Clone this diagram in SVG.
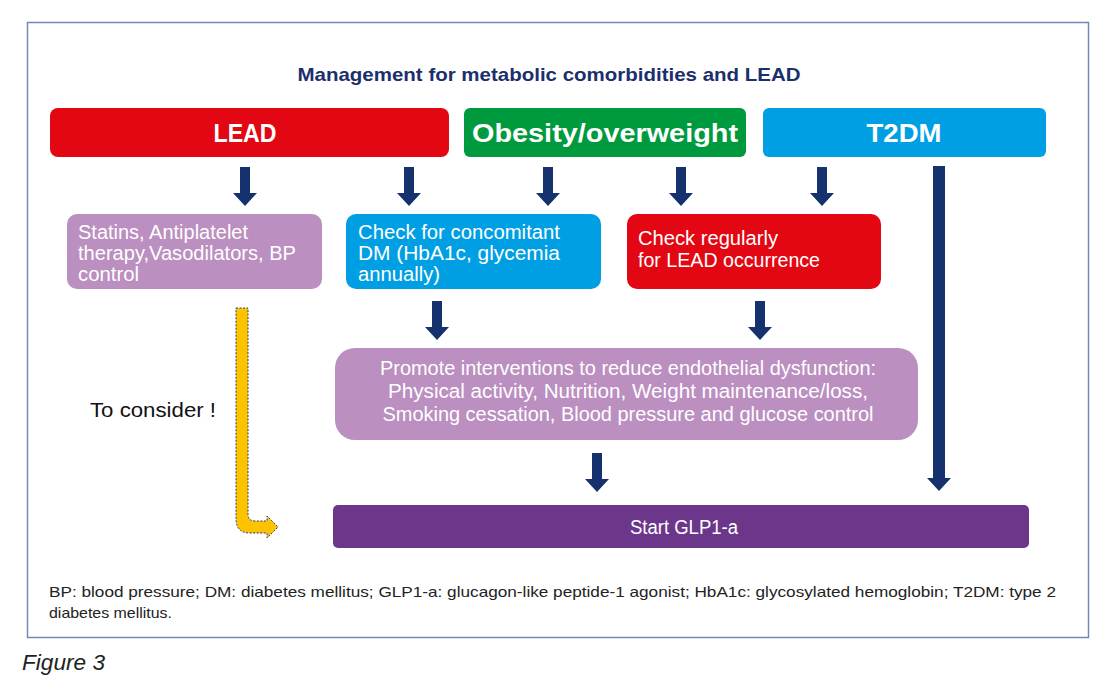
<svg xmlns="http://www.w3.org/2000/svg" width="1116" height="689" viewBox="0 0 1116 689">
<defs>
<style>
.t{font-family:"Liberation Sans",Arial,sans-serif;fill:#fff}
.hd{font-size:25px;font-weight:bold;text-anchor:middle}
.bx{font-size:20px}
.arr{fill:#15326f}
</style>
<path id="da" d="M-5,0 H5 V26 H12 L0,39 L-12,26 H-5 Z"/>
</defs>
<rect width="1116" height="689" fill="#fff"/>
<rect x="27.5" y="22.5" width="1061" height="615" fill="none" stroke="#7189b8" stroke-width="1.5"/>
<text x="549" y="81" font-family="Liberation Sans, Arial, sans-serif" font-size="19" font-weight="bold" fill="#1b2f6b" text-anchor="middle" textLength="503" lengthAdjust="spacingAndGlyphs">Management for metabolic comorbidities and LEAD</text>

<g id="lead"><rect x="50" y="108" width="399" height="49" rx="8" fill="#e30613"/><text class="t hd" x="245" y="142" textLength="63" lengthAdjust="spacingAndGlyphs">LEAD</text></g>
<g id="obesity"><rect x="464" y="108" width="282" height="49" rx="6" fill="#009a3e"/><text class="t hd" x="605" y="142" textLength="266" lengthAdjust="spacingAndGlyphs">Obesity/overweight</text></g>
<g id="t2dm"><rect x="763" y="108" width="283" height="49" rx="6" fill="#009fe3"/><text class="t hd" x="904" y="142" textLength="75" lengthAdjust="spacingAndGlyphs">T2DM</text></g>

<g id="statins"><rect x="67" y="214" width="255" height="75" rx="10" fill="#bb8fc0"/>
<text class="t bx" x="78" y="239" textLength="170" lengthAdjust="spacingAndGlyphs">Statins, Antiplatelet</text>
<text class="t bx" x="78" y="260" textLength="218" lengthAdjust="spacingAndGlyphs">therapy,Vasodilators, BP</text>
<text class="t bx" x="78" y="281" textLength="61" lengthAdjust="spacingAndGlyphs">control</text></g>

<g id="checkdm"><rect x="346" y="214" width="255" height="75" rx="10" fill="#009fe3"/>
<text class="t bx" x="358" y="239" textLength="202" lengthAdjust="spacingAndGlyphs">Check for concomitant</text>
<text class="t bx" x="358" y="260" textLength="202" lengthAdjust="spacingAndGlyphs">DM (HbA1c, glycemia</text>
<text class="t bx" x="358" y="281" textLength="82" lengthAdjust="spacingAndGlyphs">annually)</text></g>

<g id="checklead"><rect x="627" y="214" width="254" height="75" rx="10" fill="#e30613"/>
<text class="t bx" x="638" y="245" textLength="140" lengthAdjust="spacingAndGlyphs">Check regularly</text>
<text class="t bx" x="638" y="267" textLength="182" lengthAdjust="spacingAndGlyphs">for LEAD occurrence</text></g>

<g id="promote"><rect x="335" y="348" width="583" height="92" rx="20" fill="#bb8fc0"/>
<text class="t bx" x="628" y="375" text-anchor="middle" textLength="496" lengthAdjust="spacingAndGlyphs">Promote interventions to reduce endothelial dysfunction:</text>
<text class="t bx" x="628" y="398" text-anchor="middle" textLength="480" lengthAdjust="spacingAndGlyphs">Physical activity, Nutrition, Weight maintenance/loss,</text>
<text class="t bx" x="628" y="421" text-anchor="middle" textLength="491" lengthAdjust="spacingAndGlyphs">Smoking cessation, Blood pressure and glucose control</text></g>

<g id="glp1"><rect x="333" y="505" width="696" height="43" rx="5" fill="#6c368a"/>
<text class="t" x="684" y="534" font-size="20" text-anchor="middle" textLength="108" lengthAdjust="spacingAndGlyphs">Start GLP1-a</text></g>

<g id="connectors" class="arr">
<use href="#da" x="245" y="167"/>
<use href="#da" x="409" y="167"/>
<use href="#da" x="548" y="167"/>
<use href="#da" x="681" y="167"/>
<use href="#da" x="822" y="167"/>
<use href="#da" x="437" y="301"/>
<use href="#da" x="760" y="301"/>
<use href="#da" x="597" y="453"/>
<path d="M933,166 H945 V478 H951 L939,491 L927,478 H933 Z"/>
<path d="M236,308 H248 V514 Q248,521 255,521 H267 V516 L278,527 L267,538 V533 H250 Q236,533 236,519 Z" fill="#fdc300" stroke="#2a3f7a" stroke-width="1" stroke-dasharray="2,1.5"/>
</g>

<text x="90" y="417" font-family="Liberation Sans, Arial, sans-serif" font-size="20" fill="#111" textLength="126" lengthAdjust="spacingAndGlyphs">To consider !</text>
<text x="49" y="597" font-family="Liberation Sans, Arial, sans-serif" font-size="15" fill="#222" textLength="1007" lengthAdjust="spacingAndGlyphs">BP: blood pressure; DM: diabetes mellitus; GLP1-a: glucagon-like peptide-1 agonist; HbA1c: glycosylated hemoglobin; T2DM: type 2</text>
<text x="49" y="618" font-family="Liberation Sans, Arial, sans-serif" font-size="15" fill="#222" textLength="123" lengthAdjust="spacingAndGlyphs">diabetes mellitus.</text>
<text x="22" y="670" font-family="Liberation Sans, Arial, sans-serif" font-size="22" font-style="italic" fill="#222" textLength="83" lengthAdjust="spacingAndGlyphs">Figure 3</text>
</svg>
